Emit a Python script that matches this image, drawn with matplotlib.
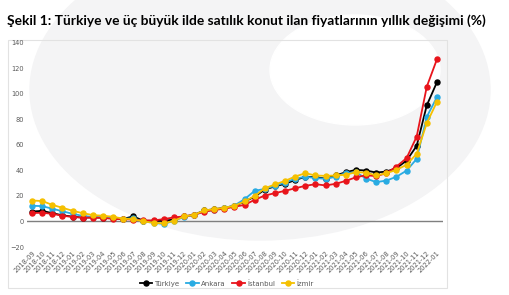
import matplotlib.pyplot as plt
from matplotlib.patches import Ellipse, Rectangle

months = ['2018-09', '2018-10', '2018-11', '2018-12',
          '2019-01', '2019-02', '2019-03', '2019-04', '2019-05', '2019-06',
          '2019-07', '2019-08', '2019-09', '2019-10', '2019-11', '2019-12',
          '2020-01', '2020-02', '2020-03', '2020-04', '2020-05', '2020-06',
          '2020-07', '2020-08', '2020-09', '2020-10', '2020-11', '2020-12',
          '2021-01', '2021-02', '2021-03', '2021-04', '2021-05', '2021-06',
          '2021-07', '2021-08', '2021-09', '2021-10', '2021-11', '2021-12',
          '2022-01']

turkiye = [7.8, 8.3, 6.5, 4.8, 3.8, 3.0, 3.2, 3.0, 2.5, 2.0,
           4.0, 0.5, 0.5, 0.5, 1.5, 3.9, 5.2, 8.6, 9.6, 10.7,
           12.3, 15.5, 19.5, 25.0, 27.5, 29.5, 32.5, 35.0, 34.7, 33.6,
           36.0, 38.6, 40.4, 39.9, 38.3, 39.1, 41.7, 47.7, 59.2, 91.0,
           109.0]
ankara = [12.3, 12.0, 10.0, 8.0, 6.0, 4.4, 3.5, 3.2, 2.5, 2.0,
          2.5, 0.0, -1.0, -2.0, 0.5, 3.5, 5.0, 8.0, 9.0, 10.5,
          12.5, 17.5, 24.0, 25.5, 28.0, 30.5, 33.5, 35.0, 34.0, 33.4,
          35.0, 38.0, 38.5, 33.6, 30.8, 32.0, 35.0, 39.8, 49.0, 82.0,
          97.3]
istanbul = [6.6, 6.8, 6.0, 4.5, 3.5, 3.0, 3.0, 2.8, 2.0, 1.8,
            1.5, 0.8, 0.8, 1.8, 3.2, 3.9, 5.2, 7.6, 9.0, 10.0,
            11.5, 13.0, 17.0, 20.3, 22.2, 24.0, 26.0, 27.9, 29.2, 28.2,
            29.5, 31.8, 34.6, 36.2, 35.5, 37.8, 43.0, 49.6, 66.5, 105.6,
            127.0]
izmir = [16.4, 16.0, 13.0, 10.7, 8.4, 6.5, 5.0, 4.5, 3.7, 2.2,
         1.8, 0.0, -1.0, -1.5, 0.5, 3.9, 5.2, 8.6, 9.6, 10.7,
         12.3, 15.7, 20.0, 26.0, 29.0, 31.8, 35.2, 37.8, 36.0, 35.7,
         36.0, 36.6, 38.6, 38.3, 36.0, 37.8, 40.4, 44.4, 53.0, 77.0,
         93.7]

series = [('Türkiye', turkiye, '#000000'),
          ('Ankara', ankara, '#29abe2'),
          ('İstanbul', istanbul, '#e8141b'),
          ('İzmir', izmir, '#f5c000')]

fig = plt.figure(figsize=(5.09, 2.95), dpi=100, facecolor='white')

# faint watermark shapes in the background
W, H = 509, 295
fig.patches.append(Ellipse((260 / W, 1 - 90 / H), 460 / W, 300 / H,
                           transform=fig.transFigure, color='#f4f4f5', zorder=-2))
fig.patches.append(Ellipse((355 / W, 1 - 70 / H), 170 / W, 110 / H,
                           transform=fig.transFigure, color='white', zorder=-1))
# chart frame
fig.patches.append(Rectangle((8 / W, 1 - 288 / H), 439 / W, 248 / H,
                             transform=fig.transFigure, fill=False,
                             edgecolor='#e2e2e2', lw=0.8, zorder=-1))

fig.text(7 / W, 1 - 25 / H,
         'Şekil 1: Türkiye ve üç büyük ilde satılık konut ilan fiyatlarının yıllık değişimi (%)',
         fontsize=9.9, fontweight='bold', family='Lato', va='baseline')

ax = fig.add_axes([27 / W, 1 - 247 / H, 416 / W, 204.3 / H])
ax.set_zorder(2)
ax.patch.set_alpha(0)
x = list(range(len(months)))
for name, vals, col in series:
    ax.plot(x, vals, color=col, lw=1.3, marker='o', ms=3.6, label=name)

ax.axhline(0, color='#7f7f7f', lw=1, zorder=0)
ax.set_xlim(-0.5, 40.6)
ax.set_ylim(-20, 140)
ax.set_yticks(range(-20, 141, 20))
ax.set_xticks(x)
ax.set_xticklabels(months, rotation=45, ha='right', rotation_mode='anchor')
ax.tick_params(length=0, labelsize=4.8, labelcolor='#595959', pad=2)
for s in ax.spines.values():
    s.set_visible(False)

ax.legend(loc='upper center', bbox_to_anchor=(0.48, -0.13), ncol=4,
          frameon=False, fontsize=5, labelcolor='#595959',
          handlelength=1.8, columnspacing=1.0, handletextpad=0.3)

fig.savefig('out.png', dpi=100)
